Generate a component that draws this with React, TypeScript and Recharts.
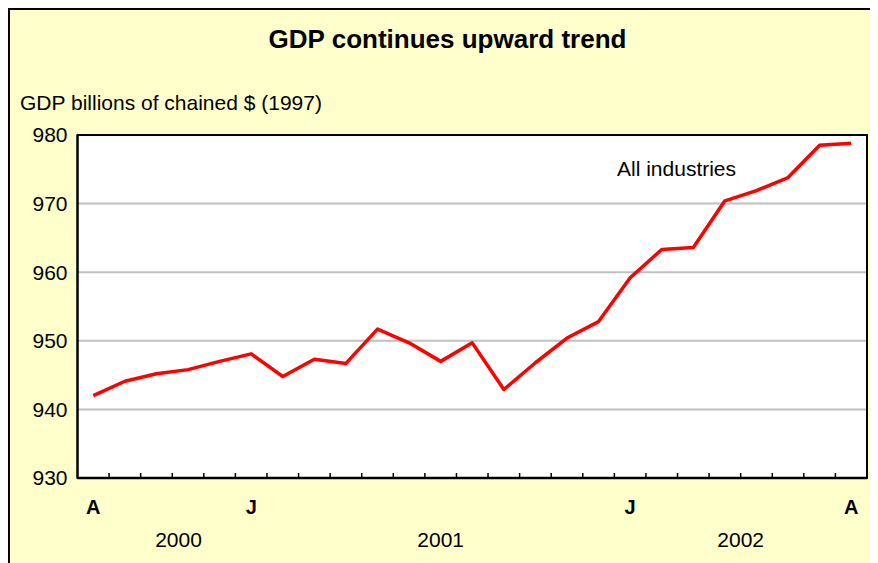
import React from "react";
import {
  LineChart, Line, XAxis, YAxis, CartesianGrid, ReferenceArea,
} from "recharts";

// Monthly GDP, Aug 2000 → Aug 2002, billions of chained 1997 dollars
const MONTHS = [
  "A", "S", "O", "N", "D",
  "J", "F", "M", "A", "M", "J", "J", "A", "S", "O", "N", "D",
  "J", "F", "M", "A", "M", "J", "J", "A",
];
const GDP = [
  942.0, 944.1, 945.2, 945.8, 947.0,
  948.1, 944.8, 947.3, 946.7, 951.7, 949.7, 947.0, 949.7, 942.9, 946.8, 950.4, 952.8,
  959.2, 963.3, 963.6, 970.4, 971.9, 973.8, 978.5, 978.8,
];
// months that carry a letter under the axis
const LABELED_MONTHS = [0, 5, 17, 24];
const YEARS = ["2000", "2001", "2002"];
const YEAR_TICKS = [2.7, 11, 20.5];
const Y_TICKS = [930, 940, 950, 960, 970, 980];

const DATA = GDP.map((gdp, i) => ({ i, gdp }));
// band boundaries between months, where Excel draws its little tick marks
const BOUNDARIES = MONTHS.slice(1).map((_, i) => i + 0.5);
const X_DOMAIN: [number, number] = [-0.5, MONTHS.length - 0.5];

const FONT = "Arial, 'Liberation Sans', sans-serif";

export default function App() {
  return (
    <div
      style={{
        position: "relative",
        width: 870,
        height: 555,
        background: "#FFFFCC",
        borderTop: "2px solid #000",
        borderLeft: "2px solid #000",
        fontFamily: FONT,
        color: "#000",
      }}
    >
      <div
        style={{
          position: "absolute", left: 437.5, top: 16, transform: "translateX(-50%)",
          fontSize: 26, fontWeight: "bold", lineHeight: 1, whiteSpace: "nowrap",
        }}
      >
        GDP continues upward trend
      </div>
      <div style={{ position: "absolute", left: 10, top: 82, fontSize: 21, lineHeight: 1, whiteSpace: "nowrap" }}>
        GDP billions of chained $ (1997)
      </div>

      <LineChart
        width={870}
        height={555}
        data={DATA}
        margin={{ top: 125, right: 13, left: 20, bottom: 15 }}
        style={{ position: "absolute", left: 0, top: 0 }}
      >
        <CartesianGrid
          xAxisId="main"
          vertical={false}
          stroke="#C0C0C0"
          strokeWidth={2}
          fill="#FFFFFF"
          fillOpacity={1}
        />
        <XAxis
          xAxisId="main"
          dataKey="i"
          type="number"
          domain={X_DOMAIN}
          ticks={BOUNDARIES}
          interval={0}
          allowDataOverflow
          mirror
          height={2}
          tickFormatter={() => ""}
          tickSize={5}
          tickLine={{ stroke: "#000", strokeWidth: 1.5 }}
          axisLine={{ stroke: "#000", strokeWidth: 2.5 }}
        />
        <XAxis
          xAxisId="month"
          dataKey="i"
          type="number"
          domain={X_DOMAIN}
          ticks={LABELED_MONTHS}
          allowDataOverflow
          height={40}
          interval={0}
          tickFormatter={(v: number) => MONTHS[v]}
          tick={{ fontSize: 20, fontWeight: "bold", fill: "#000", fontFamily: FONT }}
          tickSize={0}
          tickMargin={22}
          tickLine={false}
          axisLine={false}
        />
        <XAxis
          xAxisId="year"
          dataKey="i"
          type="number"
          domain={X_DOMAIN}
          ticks={YEAR_TICKS}
          allowDataOverflow
          height={32}
          interval={0}
          tickFormatter={(v: number) => YEARS[YEAR_TICKS.indexOf(v)]}
          tick={{ fontSize: 21, fill: "#000", fontFamily: FONT }}
          tickSize={0}
          tickMargin={14}
          tickLine={false}
          axisLine={false}
        />
        <YAxis
          domain={[930, 980]}
          ticks={Y_TICKS}
          interval={0}
          width={47.5}
          tick={{ fontSize: 21, fill: "#000", fontFamily: FONT }}
          tickSize={0}
          tickMargin={10}
          tickLine={false}
          axisLine={{ stroke: "#000", strokeWidth: 2 }}
        />
        <ReferenceArea
          xAxisId="main"
          x1={X_DOMAIN[0]}
          x2={X_DOMAIN[1]}
          y1={930}
          y2={980}
          fill="none"
          stroke="#000"
          strokeWidth={2}
          ifOverflow="visible"
        />
        <Line
          xAxisId="main"
          dataKey="gdp"
          type="linear"
          stroke="#FF0000"
          strokeWidth={3.5}
          strokeLinejoin="round"
          dot={false}
          activeDot={false}
          isAnimationActive={false}
        />
      </LineChart>

      <div style={{ position: "absolute", left: 607, top: 148, fontSize: 21, lineHeight: 1, whiteSpace: "nowrap" }}>
        All industries
      </div>
    </div>
  );
}
